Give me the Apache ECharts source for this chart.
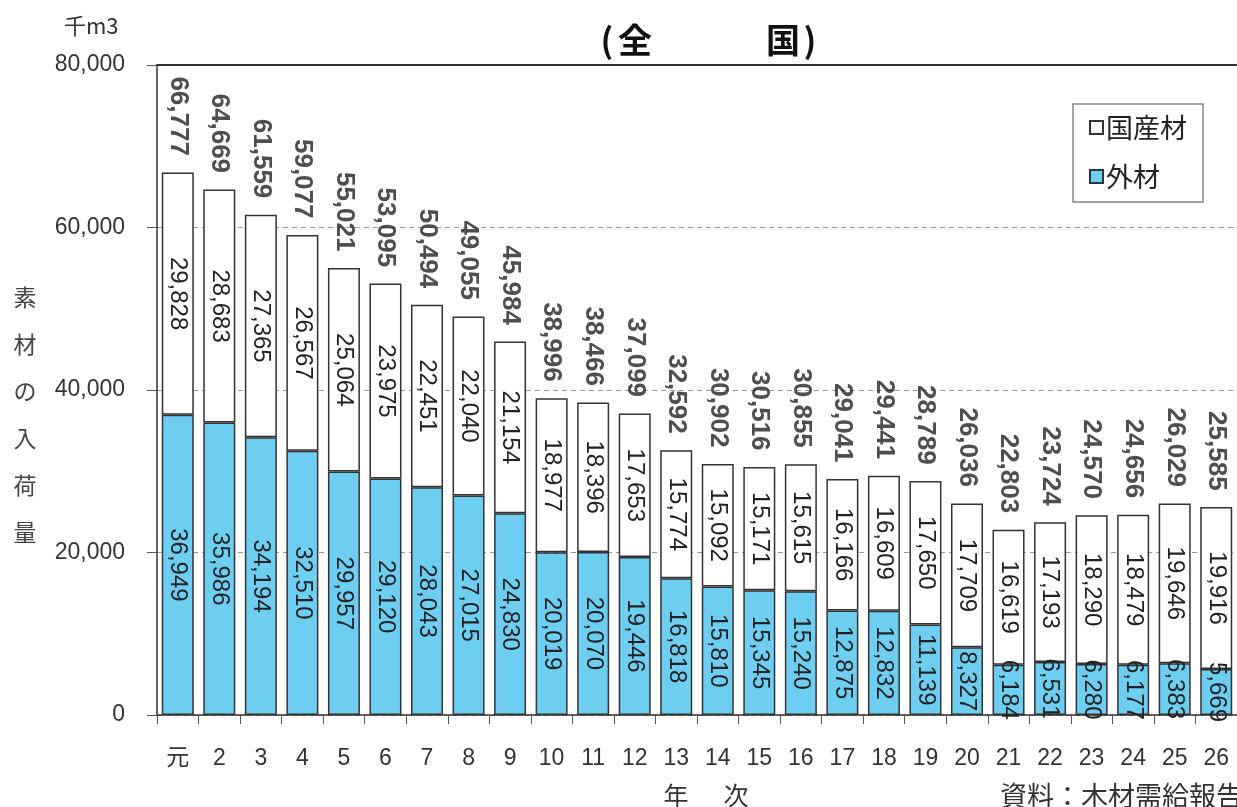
<!DOCTYPE html>
<html>
<head>
<meta charset="utf-8">
<script src="https://cdn.jsdelivr.net/npm/echarts@6/dist/echarts.min.js"></script>
<style>
html,body{margin:0;padding:0;background:#fff;}
#chart{width:1237px;height:807px;}
</style>
</head>
<body>
<div id="chart"></div>
<script>
const categories = ['元','2','3','4','5','6','7','8','9','10','11','12','13','14','15','16','17','18','19','20','21','22','23','24','25','26'];
const domestic = [29828,28683,27365,26567,25064,23975,22451,22040,21154,18977,18396,17653,15774,15092,15171,15615,16166,16609,17650,17709,16619,17193,18290,18479,19646,19916];
const imported = [36949,35986,34194,32510,29957,29120,28043,27015,24830,20019,20070,19446,16818,15810,15345,15240,12875,12832,11139,8327,6184,6531,6280,6177,6383,5669];
const totals = [66777,64669,61559,59077,55021,53095,50494,49055,45984,38996,38466,37099,32592,30902,30516,30855,29041,29441,28789,26036,22803,23724,24570,24656,26029,25585];
const yTicks = [0,20000,40000,60000,80000];

const FONT = "'Liberation Sans','Noto Sans CJK JP',sans-serif";
const CJK = "'Noto Sans CJK JP','Liberation Sans',sans-serif";
const fmt = v => Number(v).toLocaleString('en-US');

const chart = echarts.init(document.getElementById('chart'));
chart.setOption({
  backgroundColor: '#fff',
  animation: false,
  textStyle: { fontFamily: FONT },
  grid: { left: 157, top: 65, width: 1084, height: 650, containLabel: false },
  legend: {
    data: ['国産材','外材'],
    orient: 'vertical',
    left: 1073, top: 104,
    padding: [10, 16, 12, 16],
    itemGap: 22,
    itemWidth: 13, itemHeight: 13,
    icon: 'rect',
    borderColor: '#888', borderWidth: 1.5,
    textStyle: { fontSize: 27, fontFamily: CJK, color: '#222', padding: [0,0,0,-2] }
  },
  xAxis: [{
    type: 'category',
    data: categories,
    axisLine: { lineStyle: { color: '#333', width: 1.5 } },
    axisTick: { show: true, length: 9, lineStyle: { color: '#555' } },
    axisLabel: { fontSize: 23, color: '#333', margin: 32, interval: 0 }
  }, {
    type: 'category',
    data: categories,
    position: 'top',
    axisLine: { lineStyle: { color: '#333', width: 2 } },
    axisTick: { show: false },
    axisLabel: { show: false }
  }],
  yAxis: {
    type: 'value',
    min: yTicks[0], max: yTicks[yTicks.length-1], interval: 20000,
    axisLine: { show: true, lineStyle: { color: '#333', width: 1.5 } },
    axisTick: { show: true, length: 10, lineStyle: { color: '#555' } },
    axisLabel: { fontSize: 23, color: '#333', margin: 32, formatter: v => fmt(v) },
    splitLine: { show: true, lineStyle: { color: '#999', type: [5,4], width: 1 } }
  },
  series: [{
    name: '外材',
    type: 'bar',
    stack: 'total',
    data: imported,
    barWidth: 32,
    itemStyle: { color: '#6ECEF2', borderColor: '#333', borderWidth: 1.5 },
    label: { show: true, position: 'inside', rotate: -90, fontSize: 24, color: '#222', formatter: p => fmt(p.value) }
  }, {
    name: '国産材',
    type: 'bar',
    stack: 'total',
    data: domestic,
    barWidth: 32,
    itemStyle: { color: '#ffffff', borderColor: '#333', borderWidth: 1.5 },
    label: { show: true, position: 'inside', rotate: -90, fontSize: 24, color: '#222', formatter: p => fmt(p.value) }
  }, {
    name: '合計',
    type: 'scatter',
    data: totals,
    symbolSize: 1,
    itemStyle: { color: 'rgba(0,0,0,0)' },
    label: { show: true, position: 'top', distance: 16, rotate: -90, align: 'right', verticalAlign: 'middle',
      fontSize: 26, fontWeight: 'bold', color: '#222', formatter: p => fmt(p.value) },
    z: 5
  }],
  graphic: [
    { type: 'text', left: 64, top: 15, style: { text: '千m3', fontSize: 22, fontFamily: CJK, fill: '#333' } },
    { type: 'text', x: 607, y: 40, style: { text: '(', fontSize: 34, fontWeight: 'bold', fontFamily: CJK, fill: '#111', textAlign: 'center', textVerticalAlign: 'middle' } },
    { type: 'text', x: 635, y: 40, style: { text: '全', fontSize: 34, fontWeight: 'bold', fontFamily: CJK, fill: '#111', textAlign: 'center', textVerticalAlign: 'middle' } },
    { type: 'text', x: 783, y: 40, style: { text: '国', fontSize: 34, fontWeight: 'bold', fontFamily: CJK, fill: '#111', textAlign: 'center', textVerticalAlign: 'middle' } },
    { type: 'text', x: 810, y: 40, style: { text: ')', fontSize: 34, fontWeight: 'bold', fontFamily: CJK, fill: '#111', textAlign: 'center', textVerticalAlign: 'middle' } },
    { type: 'text', x: 25, y: 274, style: { text: '素\n材\nの\n入\n荷\n量', fontSize: 23, lineHeight: 47, fontFamily: CJK, fill: '#444', textAlign: 'center', textVerticalAlign: 'top' } },
    { type: 'text', x: 676, y: 795, style: { text: '年', fontSize: 25, fontFamily: CJK, fill: '#333', textAlign: 'center', textVerticalAlign: 'middle' } },
    { type: 'text', x: 736, y: 795, style: { text: '次', fontSize: 25, fontFamily: CJK, fill: '#333', textAlign: 'center', textVerticalAlign: 'middle' } },
    { type: 'text', x: 1000, y: 796, style: { text: '資料：木材需給報告', fontSize: 27, fontFamily: CJK, fill: '#333', textAlign: 'left', textVerticalAlign: 'middle' } }
  ]
});
</script>
</body>
</html>
